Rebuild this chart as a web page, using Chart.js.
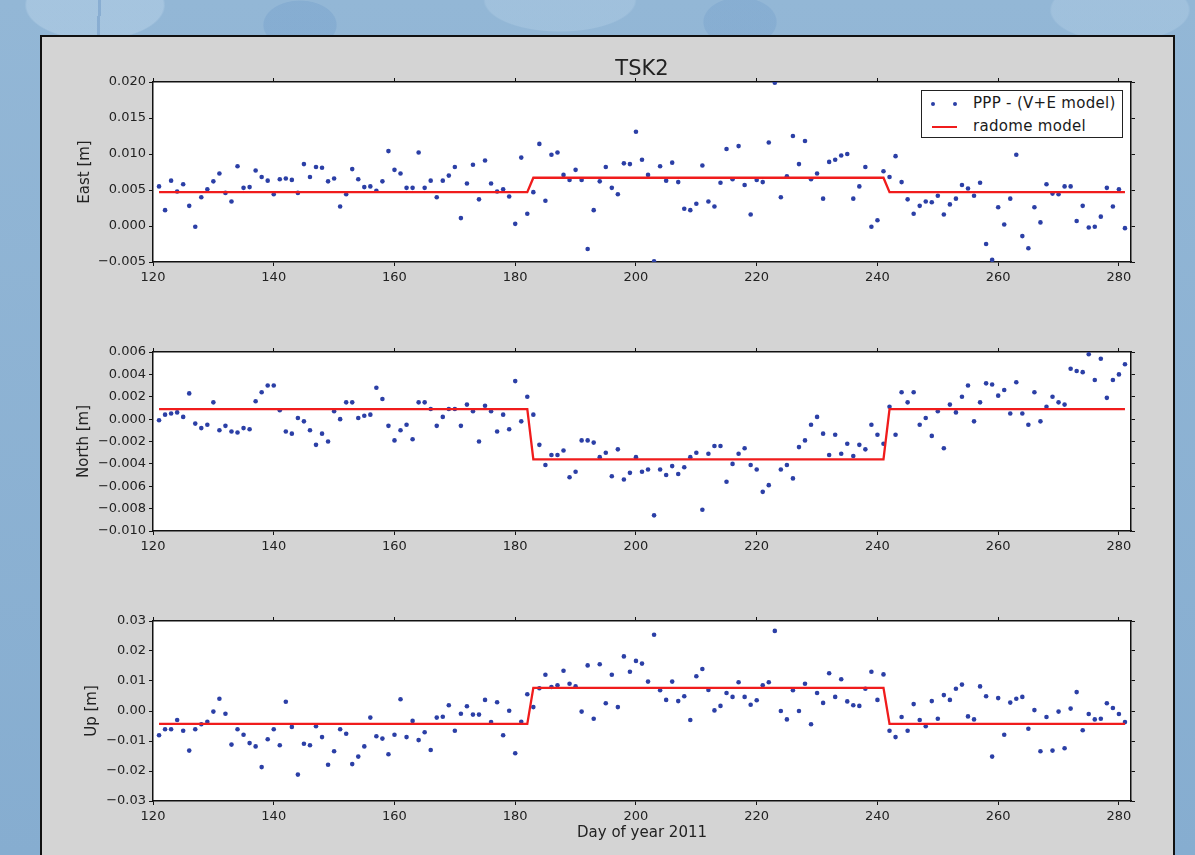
<!DOCTYPE html>
<html lang="en">

<head>
    <meta charset="utf-8">
    <title>TSK2</title>
    <script src="https://cdn.jsdelivr.net/npm/chart.js"></script>
    <style>
        body {
            margin: 0;
            width: 1195px;
            height: 855px;
            overflow: hidden;
            position: relative;
            font-family: 'DejaVu Sans', sans-serif;
            background-color: #8cb2d2;
            background-image:
                radial-gradient(ellipse 110px 55px at 95px 5px, rgba(200, 222, 240, 0.35) 62%, transparent 64%),
                radial-gradient(ellipse 120px 50px at 560px 0px, rgba(200, 222, 240, 0.25) 62%, transparent 64%),
                radial-gradient(ellipse 110px 50px at 1120px 10px, rgba(200, 222, 240, 0.25) 62%, transparent 64%),
                radial-gradient(ellipse 60px 40px at 300px 25px, rgba(90, 140, 195, 0.22) 60%, transparent 62%),
                radial-gradient(ellipse 60px 40px at 740px 22px, rgba(90, 140, 195, 0.2) 60%, transparent 62%),
                linear-gradient(92deg, transparent 0 98px, rgba(50, 105, 170, 0.45) 98px 101px, transparent 101px),
                linear-gradient(180deg, #93b7d6, #86add0);
        }

        #panel {
            position: absolute;
            left: 40px;
            top: 35px;
            width: 1131px;
            height: 840px;
            background: #d4d4d4;
            border: 2px solid #111;
        }

        canvas {
            position: absolute;
            left: 40px;
        }

        #legend {
            position: absolute;
            left: 921px;
            top: 90px;
            width: 200px;
            height: 46px;
            background: #fff;
            border: 1px solid #222;
            font-size: 15px;
            color: #1a1a1a;
        }

        #legend .row {
            position: relative;
            height: 23px;
            line-height: 23px;
        }

        #legend .row:first-child {
            margin-top: 1px;
        }

        #legend .text {
            position: absolute;
            left: 51px;
            top: 0;
            white-space: nowrap;
            letter-spacing: 0.3px;
        }

        #legend .dot {
            position: absolute;
            top: 10px;
            width: 4px;
            height: 4px;
            border-radius: 50%;
        }

        #legend .line {
            position: absolute;
            left: 10px;
            top: 11px;
            width: 25px;
            height: 2px;
        }
    </style>
</head>

<body>
    <div id="panel"></div>
    <canvas id="eastChart" width="1135" height="252" style="top:40px"></canvas>
    <canvas id="northChart" width="1135" height="231" style="top:330px"></canvas>
    <canvas id="upChart" width="1135" height="255" style="top:600px"></canvas>
    <div id="legend"></div>

    <script type="text/javascript">

        const days = [
            121, 122, 123, 124, 125, 126, 127, 128, 129, 130, 131, 132, 133, 134, 135, 136, 137, 138, 139, 140,
            141, 142, 143, 144, 145, 146, 147, 148, 149, 150, 151, 152, 153, 154, 155, 156, 157, 158, 159, 160,
            161, 162, 163, 164, 165, 166, 167, 168, 169, 170, 171, 172, 173, 174, 175, 176, 177, 178, 179, 180,
            181, 182, 183, 184, 185, 186, 187, 188, 189, 190, 191, 192, 193, 194, 195, 196, 197, 198, 199, 200,
            201, 202, 203, 204, 205, 206, 207, 208, 209, 210, 211, 212, 213, 214, 215, 216, 217, 218, 219, 220,
            221, 222, 223, 224, 225, 226, 227, 228, 229, 230, 231, 232, 233, 234, 235, 236, 237, 238, 239, 240,
            241, 242, 243, 244, 245, 246, 247, 248, 249, 250, 251, 252, 253, 254, 255, 256, 257, 258, 259, 260,
            261, 262, 263, 264, 265, 266, 267, 268, 269, 270, 271, 272, 273, 274, 275, 276, 277, 278, 279, 280,
            281
        ];

        // East [m], one value per day
        const eastValues = [
            0.0055, 0.0022, 0.0063, 0.0048, 0.0058, 0.0028, -0.0001, 0.0040, 0.0051, 0.0062, 0.0073, 0.0046, 0.0034, 0.0083, 0.0053, 0.0054, 0.0077, 0.0068, 0.0063, 0.0044,
            0.0065, 0.0066, 0.0064, 0.0046, 0.0086, 0.0068, 0.0082, 0.0081, 0.0062, 0.0066, 0.0027, 0.0044, 0.0079, 0.0065, 0.0054, 0.0055, 0.0049, 0.0062, 0.0104, 0.0078,
            0.0073, 0.0053, 0.0053, 0.0102, 0.0053, 0.0063, 0.0040, 0.0063, 0.0070, 0.0082, 0.0011, 0.0059, 0.0085, 0.0037, 0.0091, 0.0059, 0.0048, 0.0051, 0.0041, 0.0003,
            0.0095, 0.0017, 0.0047, 0.0114, 0.0035, 0.0099, 0.0102, 0.0071, 0.0064, 0.0078, 0.0064, -0.0032, 0.0022, 0.0062, 0.0082, 0.0053, 0.0044, 0.0087, 0.0086, 0.0131,
            0.0092, 0.0071, -0.0049, 0.0083, 0.0063, 0.0088, 0.0061, 0.0024, 0.0022, 0.0031, 0.0084, 0.0034, 0.0027, 0.0060, 0.0107, 0.0065, 0.0111, 0.0057, 0.0016, 0.0064,
            0.0061, 0.0116, 0.0199, 0.0040, 0.0069, 0.0125, 0.0086, 0.0118, 0.0065, 0.0073, 0.0038, 0.0089, 0.0092, 0.0098, 0.0100, 0.0038, 0.0055, 0.0082, -0.0001, 0.0008,
            0.0076, 0.0068, 0.0097, 0.0061, 0.0037, 0.0017, 0.0028, 0.0034, 0.0033, 0.0042, 0.0016, 0.0030, 0.0038, 0.0057, 0.0052, 0.0042, 0.0060, -0.0025, -0.0047, 0.0026,
            0.0002, 0.0038, 0.0099, -0.0014, -0.0031, 0.0026, 0.0005, 0.0058, 0.0045, 0.0044, 0.0055, 0.0055, 0.0007, 0.0028, -0.0002, -0.0001, 0.0013, 0.0053, 0.0027, 0.0051,
            -0.0003
        ];

        // North [m]
        const northValues = [
            -0.0001, 0.0004, 0.0005, 0.0006, 0.0002, 0.0023, -0.0004, -0.0008, -0.0005, 0.0015, -0.0010, -0.0006, -0.0011, -0.0012, -0.0008, -0.0009, 0.0016, 0.0024, 0.0030, 0.0030,
            0.0008, -0.0011, -0.0013, 0.0001, -0.0002, -0.0010, -0.0023, -0.0013, -0.0020, 0.0007, 0.0000, 0.0015, 0.0015, 0.0001, 0.0003, 0.0004, 0.0028, 0.0018, -0.0006, -0.0019,
            -0.0010, -0.0005, -0.0018, 0.0015, 0.0015, 0.0009, -0.0006, 0.0002, 0.0009, 0.0009, -0.0006, 0.0013, 0.0007, -0.0020, 0.0012, 0.0007, -0.0011, 0.0004, -0.0009, 0.0034,
            -0.0002, 0.0020, 0.0004, -0.0023, -0.0041, -0.0032, -0.0032, -0.0028, -0.0052, -0.0047, -0.0019, -0.0019, -0.0021, -0.0034, -0.0030, -0.0051, -0.0027, -0.0054, -0.0048, -0.0034,
            -0.0047, -0.0045, -0.0086, -0.0045, -0.0050, -0.0042, -0.0049, -0.0043, -0.0034, -0.0030, -0.0081, -0.0031, -0.0024, -0.0024, -0.0056, -0.0040, -0.0031, -0.0026, -0.0041, -0.0045,
            -0.0065, -0.0059, null, -0.0045, -0.0041, -0.0053, -0.0025, -0.0019, -0.0005, 0.0002, -0.0013, -0.0032, -0.0014, -0.0031, -0.0022, -0.0033, -0.0023, -0.0027, -0.0005, -0.0014,
            -0.0022, 0.0011, -0.0014, 0.0024, 0.0015, 0.0024, -0.0005, 0.0001, -0.0015, 0.0007, -0.0026, 0.0013, 0.0006, 0.0020, 0.0030, -0.0002, 0.0015, 0.0032, 0.0031, 0.0021,
            0.0026, 0.0005, 0.0033, 0.0005, -0.0005, 0.0024, -0.0002, 0.0011, 0.0020, 0.0015, 0.0013, 0.0045, 0.0043, 0.0042, 0.0058, 0.0035, 0.0054, 0.0019, 0.0035, 0.0040,
            0.0049
        ];

        // Up [m]
        const upValues = [
            -0.0081, -0.0061, -0.0061, -0.0030, -0.0066, -0.0132, -0.0061, -0.0044, -0.0036, -0.0002, 0.0041, -0.0009, -0.0112, -0.0061, -0.0079, -0.0107, -0.0118, -0.0187, -0.0094, -0.0061,
            -0.0114, 0.0031, -0.0053, -0.0212, -0.0109, -0.0114, -0.0051, -0.0087, -0.0179, -0.0134, -0.0061, -0.0076, -0.0177, -0.0152, -0.0118, -0.0022, -0.0084, -0.0092, -0.0144, -0.0079,
            0.0039, -0.0087, -0.0033, -0.0097, -0.0071, -0.0130, -0.0022, -0.0019, 0.0019, -0.0066, -0.0009, 0.0016, -0.0012, -0.0012, 0.0037, -0.0037, 0.0029, -0.0081, 0.0001, -0.0141,
            -0.0036, 0.0056, 0.0013, 0.0076, 0.0121, 0.0080, 0.0086, 0.0134, 0.0091, 0.0082, -0.0002, 0.0152, -0.0026, 0.0156, 0.0026, 0.0121, 0.0013, 0.0182, 0.0131, 0.0167,
            0.0158, 0.0098, 0.0254, 0.0069, 0.0037, 0.0098, 0.0033, 0.0049, -0.0030, 0.0116, 0.0140, 0.0070, 0.0002, 0.0017, 0.0060, 0.0047, 0.0096, 0.0047, 0.0021, 0.0036,
            0.0086, 0.0096, 0.0267, 0.0000, -0.0028, 0.0069, 0.0000, 0.0091, -0.0044, 0.0060, 0.0027, 0.0126, 0.0047, 0.0106, 0.0032, 0.0019, 0.0017, 0.0074, 0.0131, 0.0037,
            0.0122, -0.0066, -0.0087, -0.0020, -0.0066, 0.0023, -0.0030, -0.0051, 0.0033, -0.0026, 0.0053, 0.0037, 0.0074, 0.0088, -0.0018, -0.0028, 0.0082, 0.0049, -0.0152, 0.0043,
            -0.0079, 0.0028, 0.0041, 0.0047, -0.0059, 0.0003, -0.0134, -0.0020, -0.0132, -0.0002, -0.0124, 0.0008, 0.0063, -0.0064, -0.0010, -0.0028, -0.0026, 0.0026, 0.0010, -0.0010,
            -0.0037
        ];

        // radome model: offset before, during and after the radome period
        const modelDays = [121, 182, 183, 241, 242, 281];
        const eastModel = [0.0047, 0.0047, 0.0067, 0.0067, 0.0047, 0.0047];
        const northModel = [0.0009, 0.0009, -0.0036, -0.0036, 0.0009, 0.0009];
        const upModel = [-0.0043, -0.0043, 0.0077, 0.0077, -0.0043, -0.0043];

        const xTicks = [120, 140, 160, 180, 200, 220, 240, 260, 280];
        const eastTicks = [-0.005, 0.000, 0.005, 0.010, 0.015, 0.020];
        const northTicks = [-0.010, -0.008, -0.006, -0.004, -0.002, 0.000, 0.002, 0.004, 0.006];
        const upTicks = [-0.03, -0.02, -0.01, 0.00, 0.01, 0.02, 0.03];

        Chart.defaults.font.family = "'DejaVu Sans', sans-serif";
        Chart.defaults.color = '#222';

        const chartAreaFill = {
            id: 'chartAreaFill',
            beforeDraw(chart, args, options) {
                const { ctx, chartArea: { left, top, width, height } } = chart;
                ctx.save();
                ctx.fillStyle = options.color;
                ctx.fillRect(left, top, width, height);
                ctx.restore();
            }
        };

        const setTicks = values => scale => { scale.ticks = values.map(v => ({ value: v })); };
        const fmt = digits => v => v.toFixed(digits).replace('-', '\u2212');

        function buildChart(canvasId, cfg) {
            const marks = { drawOnChartArea: false, color: '#111', tickLength: 4, tickWidth: 1 };
            const edge = { color: '#111', width: 1.5 };
            const tickFont = { size: 13 };

            return new Chart(document.getElementById(canvasId), {
                type: 'scatter',
                data: {
                    datasets: [{
                        label: 'PPP - (V+E model)',
                        data: days.map((d, i) => ({ x: d, y: cfg.values[i] })).filter(p => p.y !== null),
                        pointBackgroundColor: '#2b3fa6',
                        pointBorderWidth: 0,
                        pointRadius: 2.3,
                        order: 1
                    }, {
                        label: 'radome model',
                        data: modelDays.map((d, i) => ({ x: d, y: cfg.model[i] })),
                        showLine: true,
                        borderColor: '#f01c1c',
                        borderWidth: 2.3,
                        pointRadius: 0,
                        order: 0
                    }]
                },
                options: {
                    responsive: false,
                    animation: false,
                    events: [],
                    plugins: {
                        legend: { display: false },
                        tooltip: { enabled: false },
                        chartAreaFill: { color: '#ffffff' }
                    },
                    scales: {
                        x: {
                            type: 'linear', position: 'bottom', min: 120, max: 282,
                            afterBuildTicks: setTicks(xTicks),
                            afterFit: s => { s.height = cfg.bottom; },
                            ticks: { font: tickFont, padding: 4, maxRotation: 0, callback: v => String(v) },
                            grid: marks, border: edge,
                            title: {
                                display: !!cfg.xTitle, text: cfg.xTitle || '',
                                font: { size: 15 }, padding: { top: 0, bottom: 13 }
                            }
                        },
                        xTop: {
                            type: 'linear', position: 'top', min: 120, max: 282,
                            afterBuildTicks: setTicks(xTicks),
                            afterFit: s => { s.height = cfg.top; },
                            ticks: { display: false },
                            grid: marks, border: edge,
                            title: {
                                display: !!cfg.title, text: cfg.title || '',
                                font: { size: 21 }, padding: { top: 17, bottom: 0 }
                            }
                        },
                        y: {
                            type: 'linear', position: 'left', min: cfg.ticks[0], max: cfg.ticks[cfg.ticks.length - 1],
                            afterBuildTicks: setTicks(cfg.ticks),
                            afterFit: s => { s.width = 113; },
                            ticks: { font: tickFont, padding: 3, callback: fmt(cfg.digits) },
                            grid: marks, border: edge,
                            title: {
                                display: true, text: cfg.yTitle,
                                font: { size: 15 }, padding: { top: cfg.yTitlePad, bottom: 0 }
                            }
                        },
                        yRight: {
                            type: 'linear', position: 'right', min: cfg.ticks[0], max: cfg.ticks[cfg.ticks.length - 1],
                            afterBuildTicks: setTicks(cfg.ticks),
                            afterFit: s => { s.width = 44; },
                            ticks: { display: false },
                            grid: marks, border: edge
                        }
                    }
                },
                plugins: [chartAreaFill]
            });
        }

        const eastChart = buildChart('eastChart', {
            values: eastValues, model: eastModel, ticks: eastTicks, digits: 3,
            yTitle: 'East [m]', yTitlePad: 36, title: 'TSK2', top: 42, bottom: 30
        });

        buildChart('northChart', {
            values: northValues, model: northModel, ticks: northTicks, digits: 3,
            yTitle: 'North [m]', yTitlePad: 35, top: 22, bottom: 30
        });

        buildChart('upChart', {
            values: upValues, model: upModel, ticks: upTicks, digits: 2,
            yTitle: 'Up [m]', yTitlePad: 43, xTitle: 'Day of year 2011', top: 21, bottom: 54
        });

        // legend box in the upper right of the East panel, built from the dataset styles
        const legendBox = document.getElementById('legend');
        eastChart.data.datasets.forEach(ds => {
            const row = document.createElement('div');
            row.className = 'row';
            if (ds.showLine) {
                const line = document.createElement('span');
                line.className = 'line';
                line.style.background = ds.borderColor;
                row.appendChild(line);
            } else {
                [9, 31].forEach(left => {
                    const dot = document.createElement('span');
                    dot.className = 'dot';
                    dot.style.left = left + 'px';
                    dot.style.background = ds.pointBackgroundColor;
                    row.appendChild(dot);
                });
            }
            const text = document.createElement('span');
            text.className = 'text';
            text.textContent = ds.label;
            row.appendChild(text);
            legendBox.appendChild(row);
        });
    </script>
</body>

</html>
